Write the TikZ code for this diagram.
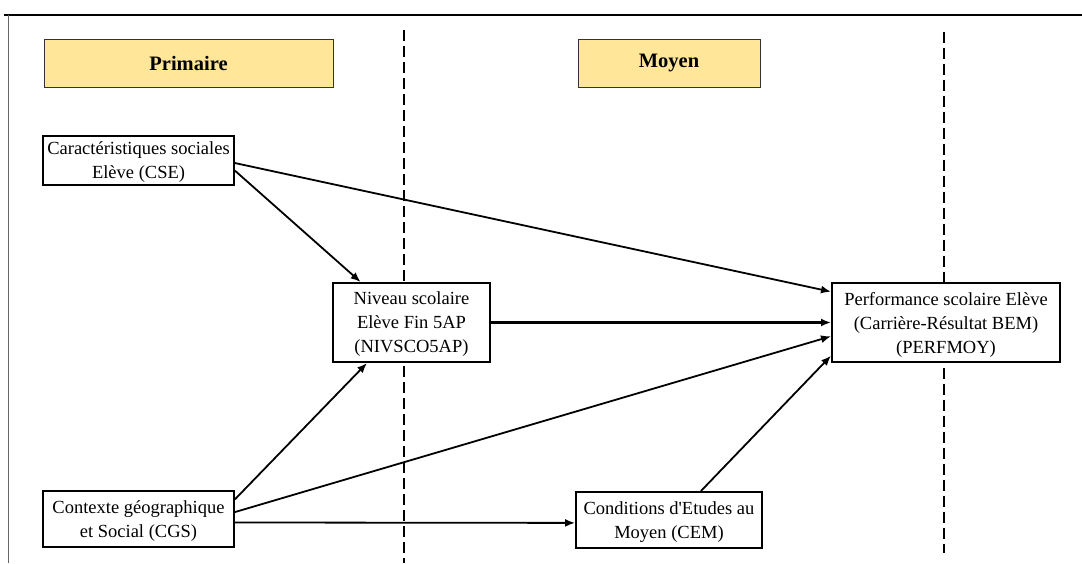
\documentclass[tikz,border=0pt]{standalone}
\usepackage{fontspec}
\setmainfont{Liberation Serif}
\usetikzlibrary{arrows.meta,calc}
\definecolor{hdr}{HTML}{FFE699}
\begin{document}
\begin{tikzpicture}[x=1pt,y=-1pt,
  box/.style={draw=black,line width=2pt,fill=white,align=center,inner sep=0pt,
    text depth=-4pt,font=\fontsize{18.5}{24}\selectfont},
  hdrbox/.style={draw=black!80,line width=1pt,fill=hdr,inner sep=0pt,
    font=\fontsize{20.5}{24}\selectfont\bfseries},
  sep/.style={line width=2.8pt,dash pattern=on 11pt off 5pt},
  arr/.style={line width=1.8pt,-{Latex[length=10pt,width=8pt]}},
  thickarr/.style={line width=3pt,-{Latex[length=10pt,width=8pt]}}]
\useasboundingbox (0,0) rectangle (1082,563);
% frame
\coordinate (ftl) at (4,15);
\coordinate (ftr) at (1082,15);
\coordinate (flt) at (8,15);
\coordinate (fbl) at (8,563);
\draw[line width=1.5pt] (ftl) -- (ftr);
\draw[line width=1pt,black!60] (flt) -- (fbl);
% separators
\coordinate (s1t) at (404,30);
\coordinate (s1b) at (404,563);
\coordinate (s2t) at (944,32);
\coordinate (s2b) at (944,553);
\draw[sep] (s1t) -- (s1b);
\draw[sep] (s2t) -- (s2b);
% headers
\node[hdrbox,minimum width=289pt,minimum height=48pt] (prim) at (188.5,63) {Primaire};
\node[hdrbox,minimum width=182pt,minimum height=48pt] (moy) at (669,63) {Moyen};
% boxes
\node[box,minimum width=191pt,minimum height=49pt] (cse) at (138.5,160.5) {Caractéristiques sociales\\Elève (CSE)};
\node[box,minimum width=157pt,minimum height=79pt] (niv) at (411.5,322.5) {Niveau scolaire\\Elève Fin 5AP\\(NIVSCO5AP)};
\node[box,minimum width=228pt,minimum height=79pt] (perf) at (946,322.5) {Performance scolaire Elève\\(Carrière-Résultat BEM)\\(PERFMOY)};
\node[box,minimum width=191pt,minimum height=56pt] (cgs) at (138.5,519) {Contexte géographique\\et Social (CGS)};
\node[box,minimum width=186pt,minimum height=56pt] (cem) at (669,520) {Conditions d\textquotesingle Etudes au\\Moyen (CEM)};
% arrows
\draw[arr] ($(cse.north east)!0.55!(cse.south east)$) -- ($(perf.north west)!0.12!(perf.south west)$);
\draw[arr] ($(cse.north east)!0.70!(cse.south east)$) -- ($(niv.north west)!0.18!(niv.north east)$);
\draw[thickarr] (niv.east) -- ($(perf.north west)!0.5!(perf.south west)$);
\draw[arr] ($(cgs.north east)!0.16!(cgs.south east)$) -- ($(niv.south west)!0.22!(niv.south east)$);
\draw[arr] ($(cgs.north east)!0.38!(cgs.south east)$) -- ($(perf.north west)!0.67!(perf.south west)$);
\draw[arr] ($(cgs.north east)!0.56!(cgs.south east)$) -- ($(cem.north west)!0.55!(cem.south west)$);
\draw[arr] ($(cem.north west)!0.67!(cem.north east)$) -- ($(perf.north west)!0.91!(perf.south west)$);
\end{tikzpicture}
\end{document}
